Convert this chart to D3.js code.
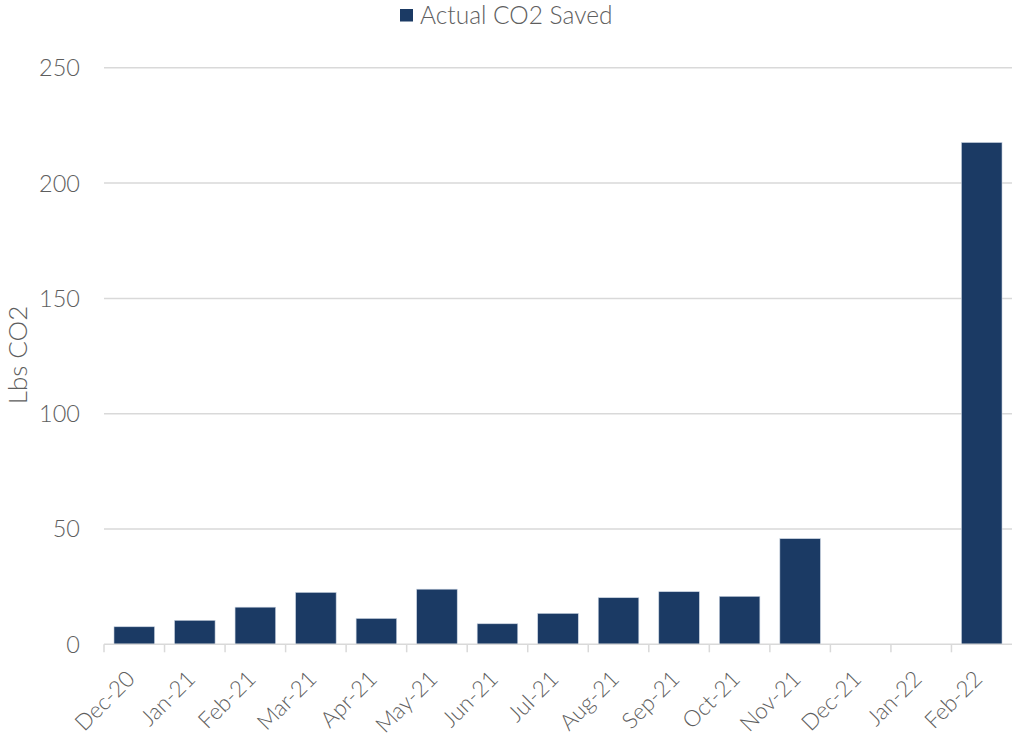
<!DOCTYPE html>
<html><head><meta charset="utf-8">
<script src="https://cdn.jsdelivr.net/npm/d3@7"></script>
<style>body{margin:0;background:#fff;} text{font-family:Lato,"Noto Sans",sans-serif;font-weight:300;}</style>
</head><body><svg id="c" width="1012" height="738"></svg>
<script>
const categories = ["Dec-20","Jan-21","Feb-21","Mar-21","Apr-21","May-21","Jun-21","Jul-21","Aug-21","Sep-21","Oct-21","Nov-21","Dec-21","Jan-22","Feb-22"];
const values = [7.6,10.4,16.1,22.5,11.2,23.9,8.9,13.4,20.2,22.8,20.8,45.8,0,0,217.6];
const yTicks = [0,50,100,150,200,250];
const seriesName = "Actual CO2 Saved";
const yTitle = "Lbs CO2";

const svg = d3.select("#c");
const m = {l:104, r:1012, t:67.8, b:644.3};
const x = d3.scaleBand().domain(categories).range([m.l, m.r]).paddingInner(0.33).paddingOuter(0.165);
const y = d3.scaleLinear().domain([0,250]).range([m.b, m.t]);
const gray = "#5e5e5e";

// gridlines
svg.append("g").selectAll("line").data(yTicks.filter(d=>d>0)).join("line")
  .attr("x1", m.l).attr("x2", m.r).attr("y1", d=>y(d)).attr("y2", d=>y(d))
  .attr("stroke", "#d9d9d9").attr("stroke-width", 1.5);

// y labels
svg.append("g").selectAll("text").data(yTicks).join("text")
  .attr("x", 80).attr("y", d=>y(d)).attr("dy","0.36em").attr("text-anchor","end")
  .attr("font-size", 23.5).attr("fill", gray).text(d=>d);

// bars
svg.append("g").selectAll("rect").data(values).join("rect")
  .attr("x", (d,i)=>x(categories[i])).attr("width", x.bandwidth())
  .attr("y", d=>y(d)).attr("height", d=>y(0)-y(d))
  .attr("fill", "#1b3a64").attr("stroke", "#c8d2e0").attr("stroke-width", 0.6);

// x axis
svg.append("line").attr("x1", m.l).attr("x2", m.r).attr("y1", y(0)).attr("y2", y(0))
  .attr("stroke", "#d9d9d9").attr("stroke-width", 1.5);
svg.append("g").selectAll("line").data(categories).join("line")
  .attr("x1", d=>x(d)-x.step()*x.paddingInner()/2).attr("x2", d=>x(d)-x.step()*x.paddingInner()/2)
  .attr("y1", y(0)).attr("y2", y(0)+8).attr("stroke","#d9d9d9").attr("stroke-width",1.5);
svg.append("g").selectAll("text").data(categories).join("text")
  .attr("transform", d=>`translate(${x(d)+x.bandwidth()/2+2},${y(0)+36}) rotate(-45)`)
  .attr("text-anchor","end")
  .attr("font-size", 22.5).attr("fill", gray).text(d=>d);

// y title
svg.append("text").attr("transform", `translate(27,355) rotate(-90)`)
  .attr("text-anchor","middle").attr("font-size", 26).attr("fill", gray).text(yTitle);

// legend
svg.append("rect").attr("x", 400).attr("y", 9).attr("width", 13).attr("height", 12.5).attr("fill", "#1b3a64");
svg.append("text").attr("x", 420).attr("y", 24).attr("font-size", 24.5).attr("fill", gray).text(seriesName);
</script></body></html>
